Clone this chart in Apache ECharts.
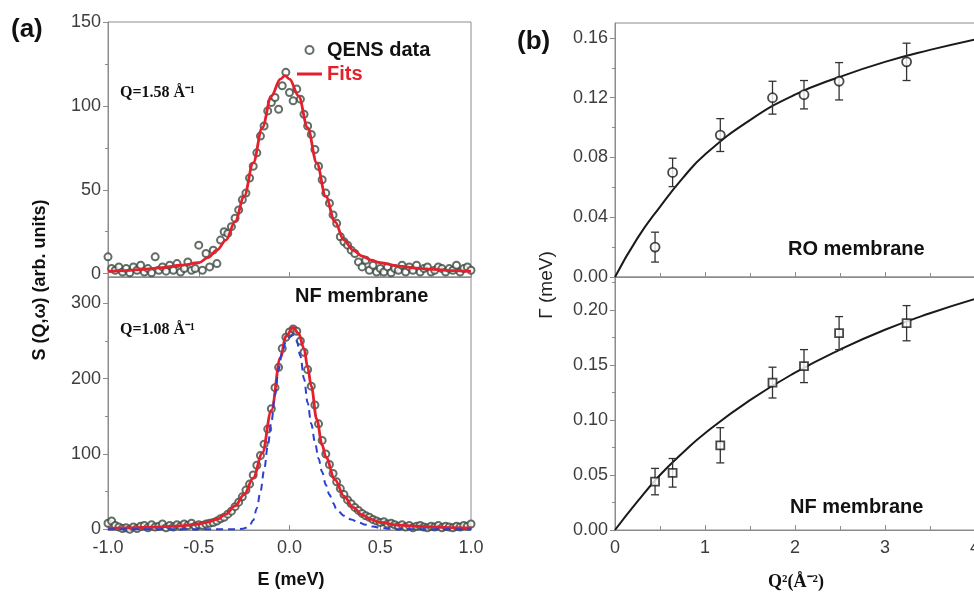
<!DOCTYPE html>
<html>
<head>
<meta charset="utf-8">
<script src="https://cdn.jsdelivr.net/npm/echarts@6/dist/echarts.min.js"></script>
<style>
  html, body { margin: 0; padding: 0; background: #fff; }
  #chart { width: 974px; height: 594px; }
</style>
</head>
<body>
<div id="chart"></div>
<script>
// ---------- (a) QENS spectra: energy transfer bins (meV) ----------
const energyBins = [
  -1.00,-0.98,-0.96,-0.94,-0.92,-0.90,-0.88,-0.86,-0.84,-0.82,
  -0.80,-0.78,-0.76,-0.74,-0.72,-0.70,-0.68,-0.66,-0.64,-0.62,
  -0.60,-0.58,-0.56,-0.54,-0.52,-0.50,-0.48,-0.46,-0.44,-0.42,
  -0.40,-0.38,-0.36,-0.34,-0.32,-0.30,-0.28,-0.26,-0.24,-0.22,
  -0.20,-0.18,-0.16,-0.14,-0.12,-0.10,-0.08,-0.06,-0.04,-0.02,
   0.00, 0.02, 0.04, 0.06, 0.08, 0.10, 0.12, 0.14, 0.16, 0.18,
   0.20, 0.22, 0.24, 0.26, 0.28, 0.30, 0.32, 0.34, 0.36, 0.38,
   0.40, 0.42, 0.44, 0.46, 0.48, 0.50, 0.52, 0.54, 0.56, 0.58,
   0.60, 0.62, 0.64, 0.66, 0.68, 0.70, 0.72, 0.74, 0.76, 0.78,
   0.80, 0.82, 0.84, 0.86, 0.88, 0.90, 0.92, 0.94, 0.96, 0.98,
   1.00
];

// S(Q,w) measured at Q = 1.58 A^-1
const sQ158 = [
  10,3,2,4,1,3,0.5,4,2,5,
  1,3,0.5,10,2,4,1.5,5,2,6,
  1,3,7,2,3,17,2,12,4,14,
  6,20,25,24,28,33,38,44,48,57,
  64,72,82,88,97,102,105,98,112,120,
  108,103,110,104,95,88,83,74,64,56,
  48,42,35,30,22,19,17,14,12,7,
  4,8,2,5,1,3,1,4,0.5,3,
  2,5,1,4,2,5,1,3,4,1,
  2,4,3,1,3,2,5,1,3,4,
  2
];

// S(Q,w) measured at Q = 1.08 A^-1 (NF membrane)
const sQ108 = [
  8,11,5,3,1,2,0,3,1,4,
  5,2,6,3,4,7,2,5,3,6,
  4,7,5,8,4,6,5,7,8,9,
  11,14,16,20,24,30,36,43,52,60,
  72,85,98,113,133,160,188,215,240,255,
  262,266,263,250,235,212,190,165,140,118,
  100,86,74,63,54,46,39,34,29,25,
  21,18,16,13,11,9,10,7,8,6,
  4,6,3,5,2,4,5,3,2,4,
  3,5,2,4,3,2,4,3,5,4,
  7
];

// fitted line shapes
const fitTopE = [-1,-0.9,-0.8,-0.7,-0.6,-0.5,-0.45,-0.4,-0.35,-0.3,
  -0.25,-0.2,-0.15,-0.1,-0.05,-0.025,0,0.05,0.1,0.15,
  0.2,0.25,0.3,0.35,0.4,0.45,0.5,0.6,0.7,0.8,0.9,1];
const fitTopS = [1.3,1.8,2.6,3.6,5,6.5,9.5,14,20,31,
  46,66,87,106,116,118,116,106,87,66,
  46,31,20,14,10.5,8,6.5,4.5,3.3,2.5,1.8,1.3];

const fitBotE = [-1,-0.9,-0.8,-0.7,-0.6,-0.5,-0.45,-0.4,-0.35,-0.3,
  -0.25,-0.2,-0.15,-0.1,-0.05,-0.02,0.02,0.05,0.08,0.1,
  0.12,0.15,0.18,0.2,0.25,0.3,0.35,0.4,0.45,0.5,
  0.6,0.7,0.8,0.9,1];
const fitBotS = [1.5,1.9,2.4,3.2,4.5,7,9.5,13,20,31,
  46,68,101,158,228,256,268,260,240,215,
  190,146,112,96,66,44,29,19,13,9,
  5.5,4,3,2.2,1.8];

// resolution function (blue dashed)
const resE = [-1,-0.3,-0.26,-0.24,-0.22,-0.2,-0.18,-0.16,-0.14,-0.12,
  -0.1,-0.08,-0.06,-0.04,-0.02,0,0.02,0.04,0.06,0.08,
  0.1,0.12,0.14,0.16,0.18,0.2,0.22,0.24,0.26,0.3,
  0.34,0.38,0.42,0.46,0.5,0.55,0.6,1];
const resS = [0,0,0.5,2,5,12,28,50,78,110,
  142,178,212,236,249,255,258,250,230,200,
  168,140,116,94,76,59,46,35,26,18,
  13,9,6,3.5,2,0.5,0,0];

// ---------- (b) HWHM vs Q^2 ----------
const q2Points = [0.445,0.64,1.17,1.75,2.10,2.49,3.24];
const gammaRO  = [0.020,0.070,0.095,0.120,0.122,0.131,0.144];
const errRO    = [0.010,0.0095,0.011,0.011,0.0095,0.0125,0.0125];
const gammaNF  = [0.044,0.052,0.077,0.134,0.149,0.179,0.188];
const errNF    = [0.012,0.013,0.016,0.014,0.015,0.015,0.016];

const q2Fit    = [0,0.25,0.5,0.75,1,1.5,2,2.5,3,3.5,4];
const fitRO    = [0,0.026,0.047,0.066,0.082,0.105,0.122,0.134,0.144,0.152,0.159];
const fitNF    = [0,0.026,0.050,0.070,0.088,0.118,0.143,0.164,0.182,0.197,0.210];

// tick label values
const ticksETop = [0,50,100,150];
const ticksEBot = [0,100,200,300];
const ticksGRO  = [0,0.04,0.08,0.12,0.16];
const ticksGNF  = [0,0.05,0.10,0.15,0.20];

// ---------- helpers ----------
const zip = (xs, ys) => xs.map((x, i) => [x, ys[i]]);
const AXIS = '#8c8c8c';
const LABEL = { color: '#3d3d3d', fontSize: 18, fontFamily: '"Liberation Sans", Arial, sans-serif' };

function errorBar(params, api) {
  const x = api.value(0), y = api.value(1), e = api.value(2);
  const hi = api.coord([x, y + e]);
  const lo = api.coord([x, y - e]);
  const w = 4;
  const style = { stroke: '#333', lineWidth: 1.3 };
  return {
    type: 'group',
    children: [
      { type: 'line', shape: { x1: hi[0], y1: hi[1], x2: lo[0], y2: lo[1] }, style },
      { type: 'line', shape: { x1: hi[0] - w, y1: hi[1], x2: hi[0] + w, y2: hi[1] }, style },
      { type: 'line', shape: { x1: lo[0] - w, y1: lo[1], x2: lo[0] + w, y2: lo[1] }, style }
    ]
  };
}

function xAxisE(grid, showLabels) {
  return {
    type: 'value', gridIndex: grid, min: -1, max: 1, interval: 0.5, position: 'bottom',
    axisLine: { onZero: false, lineStyle: { color: AXIS } },
    axisTick: { inside: true, length: 5, lineStyle: { color: AXIS } },
    axisLabel: Object.assign({ show: showLabels, margin: 9, formatter: v => v.toFixed(1) }, LABEL),
    splitLine: { show: false }
  };
}
function xAxisQ(grid, showLabels) {
  return {
    type: 'value', gridIndex: grid, min: 0, max: 4, interval: 1, position: 'bottom',
    axisLine: { onZero: false, lineStyle: { color: AXIS } },
    axisTick: { inside: true, length: 5, lineStyle: { color: AXIS } },
    minorTick: { show: true, splitNumber: 2, length: 4, lineStyle: { color: AXIS } },
    axisLabel: Object.assign({ show: showLabels, margin: 9 }, LABEL),
    splitLine: { show: false }
  };
}
function yMain(grid, min, max, ticks, fmt) {
  return {
    type: 'value', gridIndex: grid, min, max, position: 'left',
    axisLine: { show: true, onZero: false, lineStyle: { color: AXIS } },
    axisTick: { show: true, length: 5, customValues: ticks, lineStyle: { color: AXIS } },
    axisLabel: Object.assign({ margin: 7, customValues: ticks, formatter: fmt }, LABEL),
    splitLine: { show: false }
  };
}
function yMinor(grid, min, max, ticks) {
  return {
    type: 'value', gridIndex: grid, min, max, position: 'left',
    axisLine: { show: false, onZero: false },
    axisTick: { show: true, length: 3, customValues: ticks, lineStyle: { color: AXIS } },
    axisLabel: { show: false },
    splitLine: { show: false }
  };
}

const gridStyle = {
  show: true, borderColor: AXIS, borderWidth: 1, backgroundColor: 'transparent',
  containLabel: false, outerBoundsMode: 'none'
};
const boldSans = '"Liberation Sans", Arial, sans-serif';
const serif = '"Liberation Serif", "Times New Roman", serif';

function txt(x, y, text, font, fill, align, rotation) {
  return {
    type: 'text', x, y, rotation: rotation || 0,
    style: { text, font, fill: fill || '#111', textAlign: align || 'left', textVerticalAlign: 'middle' }
  };
}

const chart = echarts.init(document.getElementById('chart'), null, { renderer: 'canvas' });

chart.setOption({
  animation: false,
  backgroundColor: '#fff',
  grid: [
    Object.assign({ left: 108, top: 22, width: 363, height: 255 }, gridStyle),
    Object.assign({ left: 108, top: 277, width: 363, height: 253 }, gridStyle),
    Object.assign({ left: 615, top: 23, width: 360, height: 254 }, gridStyle),
    Object.assign({ left: 615, top: 277, width: 360, height: 253 }, gridStyle)
  ],
  xAxis: [xAxisE(0, false), xAxisE(1, true), xAxisQ(2, false), xAxisQ(3, true)],
  yAxis: [
    yMain(0, -2, 150, ticksETop, v => String(v)),
    yMain(1, -1, 335, ticksEBot, v => String(v)),
    yMain(2, 0, 0.17, ticksGRO, v => v.toFixed(2)),
    yMain(3, 0, 0.23, ticksGNF, v => v.toFixed(2)),
    yMinor(0, -2, 150, [25, 75, 125]),
    yMinor(1, -1, 335, [50, 150, 250]),
    yMinor(2, 0, 0.17, [0.02, 0.06, 0.10, 0.14]),
    yMinor(3, 0, 0.23, [0.025, 0.075, 0.125, 0.175, 0.225])
  ],
  legend: {
    orient: 'vertical', left: 292, top: 35, itemWidth: 25, itemHeight: 8, itemGap: 4,
    selectedMode: false,
    textStyle: { fontFamily: boldSans, fontWeight: 'bold', fontSize: 20, color: '#111', lineHeight: 20 },
    data: [
      { name: 'QENS data', icon: 'emptyCircle' },
      { name: 'Fits', icon: 'path://M0,0 L25,0 L25,3 L0,3 Z', itemStyle: { color: '#e3202c' },
        textStyle: { color: '#e3202c' } }
    ]
  },
  series: [
    // (a) upper spectrum
    {
      name: 'QENS data', type: 'scatter', xAxisIndex: 0, yAxisIndex: 0,
      symbol: 'emptyCircle', symbolSize: 7,
      itemStyle: { color: '#3b4a40', borderWidth: 1 },
      data: zip(energyBins, sQ158), z: 2
    },
    {
      name: 'Fits', type: 'line', xAxisIndex: 0, yAxisIndex: 0,
      symbol: 'none', smooth: 0.35, smoothMonotone: 'x',
      lineStyle: { color: '#e3202c', width: 2.8 }, itemStyle: { color: '#e3202c' },
      data: zip(fitTopE, fitTopS), z: 3
    },
    // (a) lower spectrum
    {
      name: 'QENS data', type: 'scatter', xAxisIndex: 1, yAxisIndex: 1,
      symbol: 'emptyCircle', symbolSize: 7,
      itemStyle: { color: '#3b4a40', borderWidth: 1 },
      data: zip(energyBins, sQ108), z: 2
    },
    {
      name: 'Fits', type: 'line', xAxisIndex: 1, yAxisIndex: 1,
      symbol: 'none', smooth: 0.35, smoothMonotone: 'x',
      lineStyle: { color: '#e3202c', width: 2.8 }, itemStyle: { color: '#e3202c' },
      data: zip(fitBotE, fitBotS), z: 3
    },
    {
      name: 'Resolution', type: 'line', xAxisIndex: 1, yAxisIndex: 1,
      symbol: 'none', smooth: 0.35, smoothMonotone: 'x',
      lineStyle: { color: '#2b3fd4', width: 2, type: [7, 5] },
      data: zip(resE, resS), z: 4
    },
    // (b) RO membrane
    {
      name: 'RO fit', type: 'line', xAxisIndex: 2, yAxisIndex: 2,
      symbol: 'none', smooth: true,
      lineStyle: { color: '#1a1a1a', width: 2 },
      data: zip(q2Fit, fitRO), z: 2
    },
    {
      name: 'RO err', type: 'custom', xAxisIndex: 2, yAxisIndex: 2,
      renderItem: errorBar, silent: true,
      data: q2Points.map((q, i) => [q, gammaRO[i], errRO[i]]), z: 3
    },
    {
      name: 'RO', type: 'scatter', xAxisIndex: 2, yAxisIndex: 2,
      symbol: 'circle', symbolSize: 9,
      itemStyle: { color: '#fff', borderColor: '#1a1a1a', borderWidth: 1.8 },
      data: zip(q2Points, gammaRO), z: 4
    },
    // (b) NF membrane
    {
      name: 'NF fit', type: 'line', xAxisIndex: 3, yAxisIndex: 3,
      symbol: 'none', smooth: true,
      lineStyle: { color: '#1a1a1a', width: 2 },
      data: zip(q2Fit, fitNF), z: 2
    },
    {
      name: 'NF err', type: 'custom', xAxisIndex: 3, yAxisIndex: 3,
      renderItem: errorBar, silent: true,
      data: q2Points.map((q, i) => [q, gammaNF[i], errNF[i]]), z: 3
    },
    {
      name: 'NF', type: 'scatter', xAxisIndex: 3, yAxisIndex: 3,
      symbol: 'rect', symbolSize: 8,
      itemStyle: { color: '#fff', borderColor: '#1a1a1a', borderWidth: 1.8 },
      data: zip(q2Points, gammaNF), z: 4
    }
  ],
  graphic: [
    txt(11, 30, '(a)', 'bold 26px ' + boldSans),
    txt(517, 42, '(b)', 'bold 26px ' + boldSans),
    txt(120, 93, 'Q=1.58 Å⁻¹', 'bold 16px ' + serif),
    txt(120, 330, 'Q=1.08 Å⁻¹', 'bold 16px ' + serif),
    txt(295, 296, 'NF membrane', 'bold 20px ' + boldSans),
    txt(788, 249, 'RO membrane', 'bold 20px ' + boldSans),
    txt(790, 507, 'NF membrane', 'bold 20px ' + boldSans),
    txt(291, 580, 'E (meV)', 'bold 18px ' + boldSans, '#111', 'center'),
    txt(796, 582, 'Q²(Å⁻²)', 'bold 18px ' + serif, '#111', 'center'),
    txt(40, 280, 'S (Q,ω) (arb. units)', 'bold 18px ' + boldSans, '#111', 'center', Math.PI / 2),
    txt(547, 285, 'Γ (meV)', '19px ' + boldSans, '#222', 'center', Math.PI / 2)
  ]
});
</script>
</body>
</html>
